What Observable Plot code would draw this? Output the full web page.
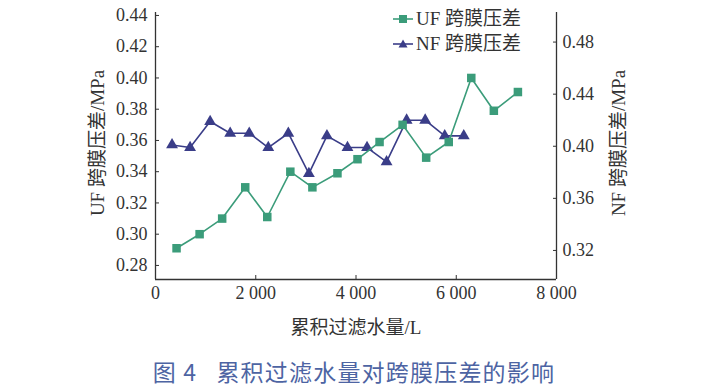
<!DOCTYPE html>
<html>
<head>
<meta charset="utf-8">
<script src="https://cdn.jsdelivr.net/npm/d3@7"></script>
<script src="https://cdn.jsdelivr.net/npm/@observablehq/plot@0.6"></script>
<style>
  html, body { margin: 0; padding: 0; background: #fff; }
  #wrap { position: relative; width: 708px; height: 389px; overflow: hidden; }
  #legend { position: absolute; left: 392px; top: 6px; font-family: "Liberation Serif", "Noto Sans CJK SC", serif; font-size: 19px; color: #333; line-height: 25px; }
  #legend div { display: flex; align-items: center; white-space: nowrap; }
  #legend svg { margin-right: 2px; }
  #caption { position: absolute; left: 0; width: 708px; top: 354px; text-align: center; font-family: "Noto Sans CJK SC", sans-serif; font-size: 23px; color: #4d64a3; letter-spacing: 1.2px; }
</style>
</head>
<body>
<div id="wrap">
  <div id="chart"></div>
  <div id="legend"></div>
  <div id="caption">图 4&nbsp;&nbsp;&nbsp;累积过滤水量对跨膜压差的影响</div>
</div>
<script>
// ---- data ----
const ufX = [420, 880, 1330, 1790, 2230, 2690, 3130, 3630, 4030, 4470, 4930, 5400, 5850, 6300, 6750, 7230];
const ufY = [0.291, 0.300, 0.310, 0.330, 0.311, 0.340, 0.330, 0.339, 0.348, 0.359, 0.370, 0.349, 0.359, 0.400, 0.379, 0.391];
const nfX = [330, 690, 1090, 1490, 1870, 2250, 2650, 3060, 3420, 3830, 4220, 4610, 5010, 5380, 5770, 6150];
const nfY = [0.401, 0.399, 0.419, 0.410, 0.410, 0.399, 0.410, 0.379, 0.408, 0.399, 0.399, 0.388, 0.420, 0.420, 0.408, 0.408];
const xTicks = [0, 2000, 4000, 6000, 8000];
const leftTicks = [0.28, 0.30, 0.32, 0.34, 0.36, 0.38, 0.40, 0.42, 0.44];
const rightTicks = [0.32, 0.36, 0.40, 0.44, 0.48];
const seriesNames = ["UF 跨膜压差", "NF 跨膜压差"];
const xLabel = "累积过滤水量/L";
const leftLabel = "UF 跨膜压差/MPa";
const rightLabel = "NF 跨膜压差/MPa";

// ---- styles ----
const ufColor = "#3b9c7a";
const nfColor = "#3a3d88";
const axisColor = "#333";

// dual axis mapping: NF value -> left (UF) scale
const yDomain = [0.2710, 0.4419];
const scaleK = 0.8336, ufAt = 0.2896, nfAt = 0.32;
const toUF = v => ufAt + (v - nfAt) * scaleK;
const fromUF = u => nfAt + (u - ufAt) / scaleK;

const uf = ufX.map((x, i) => ({x, y: ufY[i]}));
const nf = nfX.map((x, i) => ({x, y: toUF(nfY[i])}));

const chart = Plot.plot({
  width: 708,
  height: 345,
  marginLeft: 155,
  marginRight: 152,
  marginTop: 12,
  marginBottom: 66,
  style: {fontFamily: "'Liberation Serif', 'Noto Sans CJK SC', serif", fontSize: "18px", color: axisColor, background: "#fff"},
  x: {domain: [0, 8000]},
  y: {domain: yDomain},
  marks: [
    Plot.ruleX([0, 8000], {stroke: axisColor, strokeWidth: 1.3}),
    Plot.ruleY([yDomain[0]], {stroke: axisColor, strokeWidth: 1.3}),
    Plot.axisX({ticks: xTicks, tickSize: -4, tickPadding: 11, tickFormat: d => d3.format(",")(d).replace(",", " "), label: null, fontSize: 18}),
    Plot.axisY({anchor: "left", ticks: leftTicks, tickSize: -4, tickPadding: 12, tickFormat: d => d.toFixed(2), label: null, fontSize: 18}),
    Plot.axisY(rightTicks.map(toUF), {anchor: "right", tickSize: -4, tickPadding: 10, tickFormat: d => fromUF(d).toFixed(2), label: null, fontSize: 18}),
    Plot.text([xLabel], {frameAnchor: "bottom", dy: 54, fontSize: 19, fill: axisColor}),
    Plot.text([leftLabel], {frameAnchor: "left", textAnchor: "middle", rotate: -90, dx: -58, dy: -3, fontSize: 19, fill: axisColor}),
    Plot.text([rightLabel], {frameAnchor: "right", textAnchor: "middle", rotate: -90, dx: 62, dy: -3, fontSize: 19, fill: axisColor}),
    Plot.line(nf, {x: "x", y: "y", stroke: nfColor, strokeWidth: 1.6}),
    Plot.dot(nf, {x: "x", y: "y", symbol: "triangle", r: 4.4, fill: nfColor, stroke: "none"}),
    Plot.line(uf, {x: "x", y: "y", stroke: ufColor, strokeWidth: 1.6}),
    Plot.dot(uf, {x: "x", y: "y", symbol: "square", r: 4.8, fill: ufColor, stroke: "none"})
  ]
});
document.getElementById("chart").append(chart);

// legend
const legend = document.getElementById("legend");
const sw = (color, shape) => `<svg width="22" height="12" viewBox="0 0 22 12"><line x1="1" y1="6" x2="21" y2="6" stroke="${color}" stroke-width="1.6"/>` +
  (shape === "square" ? `<rect x="7" y="2" width="8" height="8" fill="${color}"/>` : `<path d="M11,1.5 L15.5,9.5 L6.5,9.5 Z" fill="${color}"/>`) + `</svg>`;
legend.innerHTML = `<div>${sw(ufColor, "square")}<span>${seriesNames[0]}</span></div><div>${sw(nfColor, "triangle")}<span>${seriesNames[1]}</span></div>`;
</script>
</body>
</html>
